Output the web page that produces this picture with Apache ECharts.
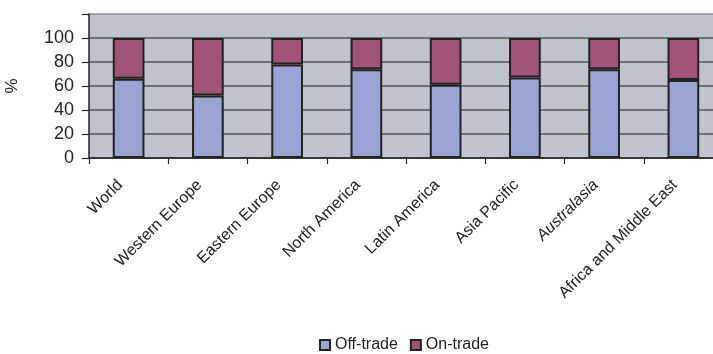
<!DOCTYPE html>
<html>
<head>
<meta charset="utf-8">
<script src="https://cdn.jsdelivr.net/npm/echarts@6/dist/echarts.min.js"></script>
<style>
  html, body { margin: 0; padding: 0; background: #ffffff; }
  #chart { width: 713px; height: 354px; }
</style>
</head>
<body>
<div id="chart"></div>
<script>
// Share of sales by channel, per region (%)
const regions = ['World', 'Western Europe', 'Eastern Europe', 'North America',
                 'Latin America', 'Asia Pacific', 'Australasia', 'Africa and Middle East'];
const offTrade = [66, 52, 78, 74, 61, 67, 74, 65];
const onTrade  = [34, 48, 22, 26, 39, 33, 26, 35];
const yTicks = [0, 20, 40, 60, 80, 100];
const italicRegions = ['Australasia'];

const chart = echarts.init(document.getElementById('chart'), null, { renderer: 'canvas' });

const font = 'Liberation Sans, Arial, Helvetica, sans-serif';
const barBorder = { borderColor: '#222222', borderWidth: 2 };

chart.setOption({
  animation: false,
  grid: {
    left: 89, top: 14, width: 634, height: 144,
    containLabel: false, outerBoundsMode: 'none',
    show: true, backgroundColor: '#c0c3cb', borderWidth: 0
  },
  legend: {
    left: 314, top: 332,
    itemWidth: 10, itemHeight: 10, itemGap: 12,
    icon: 'rect',
    textStyle: { fontFamily: font, fontSize: 16, color: '#222222' },
    data: ['Off-trade', 'On-trade']
  },
  xAxis: {
    type: 'category',
    data: regions,
    axisLine: { lineStyle: { color: '#222222', width: 1.5 } },
    axisTick: { show: true, length: 6, lineStyle: { color: '#222222', width: 1.2 } },
    axisLabel: {
      rotate: 45, margin: 16, interval: 0,
      padding: [0, 12, 0, 0],
      fontFamily: font, fontSize: 16, color: '#222222',
      formatter: v => italicRegions.includes(v) ? '{it|' + v + '}' : v,
      rich: { it: { fontStyle: 'italic', fontFamily: font, fontSize: 16, color: '#222222' } }
    }
  },
  yAxis: {
    type: 'value',
    min: 0, max: 120, interval: 20,
    name: '%', nameLocation: 'middle', nameRotate: 90, nameGap: 68,
    nameTextStyle: { fontFamily: font, fontSize: 17, color: '#222222' },
    axisLine: { show: true, lineStyle: { color: '#222222', width: 1.5 } },
    axisTick: { show: true, length: 7, lineStyle: { color: '#222222', width: 1.2 } },
    axisLabel: {
      margin: 15, fontFamily: font, fontSize: 18, color: '#222222',
      formatter: v => yTicks.includes(v) ? String(v) : ''
    },
    splitLine: {
      lineStyle: {
        color: ['#555555', '#555555', '#555555', '#555555', '#555555', '#555555', '#8a8f97'],
        width: 1.5
      }
    }
  },
  series: [
    {
      name: 'Off-trade', type: 'bar', stack: 'share', barWidth: '40%',
      data: offTrade,
      itemStyle: Object.assign({ color: '#99a4d3' }, barBorder)
    },
    {
      name: 'On-trade', type: 'bar', stack: 'share', barWidth: '40%',
      data: onTrade,
      itemStyle: Object.assign({ color: '#a05376' }, barBorder)
    }
  ]
});
</script>
</body>
</html>
